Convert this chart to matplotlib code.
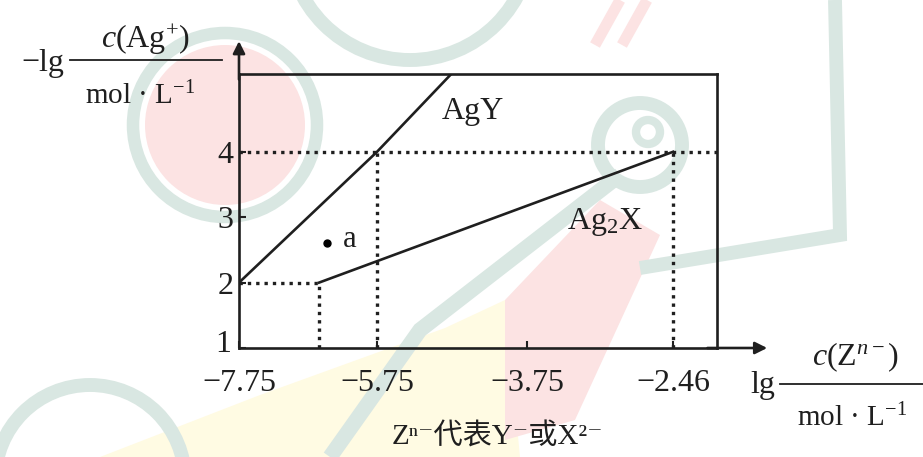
import numpy as np
import matplotlib.pyplot as plt
import matplotlib.patches as patches
from matplotlib.transforms import IdentityTransform, ScaledTranslation

plt.rcParams['font.family'] = ['Liberation Serif', 'DejaVu Serif', 'Noto Sans CJK SC']
plt.rcParams['mathtext.fontset'] = 'custom'
plt.rcParams['mathtext.rm'] = 'Liberation Serif'
plt.rcParams['mathtext.it'] = 'Liberation Serif:italic'

# 数据
x_ticks = [-7.75, -5.75, -3.75, -2.46]
x_tick_labels = ['−7.75', '−5.75', '−3.75', '−2.46']
y_ticks = [1, 2, 3, 4]
agy_x = [-7.75, -5.75, -4.76]
agy_y = [2, 4, 5.19]
ag2x_x = [-6.59, -2.46]
ag2x_y = [2, 4]
point_a_x = [-6.47]
point_a_y = [2.61]
x_right = -2.07   # 方框右边
y_top = 5.19      # 方框上边

# 示意图，横轴不等比例：刻度在轴上的位置（像素）
x_anchor = [-20, -7.75, -5.75, -3.75, -2.46, -2.07, 10]
x_anchor_px = [-845, 0, 138, 288, 434, 478, 1842]


def fwd(x):
    return np.interp(x, x_anchor, x_anchor_px)


def inv(p):
    return np.interp(p, x_anchor_px, x_anchor)


W, H = 923, 457
fig = plt.figure(figsize=(W / 100, H / 100), dpi=100)
fig.patch.set_facecolor('white')


def fp(x, y):
    # 像素(左上角为原点) -> figure 坐标
    return x / W, 1 - y / H


# ---- 背景水印 ----
green = '#d9e7e2'
pink = '#fce3e3'
yellow = '#fffbe3'


def pix(x, y):
    return x, H - y


bg = [
    patches.Polygon([pix(*p) for p in [(100, 457), (260, 395), (445, 328), (505, 300), (520, 457)]],
                    fc=yellow, ec='none'),
    patches.Polygon([pix(*p) for p in [(505, 300), (600, 200), (660, 235), (575, 420), (505, 440)]],
                    fc=pink, ec='none'),
    patches.Circle(pix(225, 125), 80, fc=pink, ec='none'),
    patches.Circle(pix(225, 125), 92, fc='none', ec=green, lw=9),
    patches.Circle(pix(410, -62), 122, fc='none', ec=green, lw=10),
    patches.Circle(pix(640, 145), 42, fc='none', ec=green, lw=10),
    patches.Circle(pix(648, 132), 12, fc='none', ec=green, lw=6),
    patches.Circle(pix(90, 480), 95, fc='none', ec=green, lw=10),
    patches.Polygon([pix(*p) for p in [(835, 0), (840, 235), (640, 268)]],
                    closed=False, fc='none', ec=green, lw=10),
    patches.Polygon([pix(*p) for p in [(620, 175), (420, 330), (330, 457)]],
                    closed=False, fc='none', ec=green, lw=11),
    patches.Polygon([pix(*p) for p in [(595, 45), (620, 0)]], closed=False, ec=pink, lw=8),
    patches.Polygon([pix(*p) for p in [(622, 45), (647, 0)]], closed=False, ec=pink, lw=8),
]
for p in bg:
    p.set_transform(IdentityTransform())
    p.set_zorder(-5)
    fig.add_artist(p)

# ---- 坐标区 ----
ax = fig.add_axes([239 / W, (H - 348) / H, 478 / W, 274 / H])
ax.patch.set_alpha(0)
ax.set_xscale('function', functions=(fwd, inv))
ax.set_xlim(-7.75, x_right)
ax.set_ylim(1, y_top)

ink = '#1f1f1f'
for s in ax.spines.values():
    s.set_color(ink)
    s.set_linewidth(1.9)

ax.set_xticks(x_ticks, x_tick_labels)
ax.set_yticks(y_ticks)
ax.tick_params(direction='in', length=5, width=1.5, color=ink, labelsize=23,
               labelcolor=ink)
ax.tick_params(axis='x', pad=15)
ax.tick_params(axis='y', pad=4)
# 纵轴的 "1" 稍微上移
lab1 = ax.get_yticklabels()[0]
lab1.set_transform(lab1.get_transform() + ScaledTranslation(-0.02, 0.07, fig.dpi_scale_trans))

# 坐标轴箭头
ax.annotate('', xy=(0, 1.12), xytext=(0, 0.98), xycoords='axes fraction',
            arrowprops=dict(arrowstyle='-|>', color=ink, lw=1.9, mutation_scale=18,
                            shrinkA=0, shrinkB=0), annotation_clip=False)
ax.annotate('', xy=(1.105, 0), xytext=(0.98, 0), xycoords='axes fraction',
            arrowprops=dict(arrowstyle='-|>', color=ink, lw=1.9, mutation_scale=18,
                            shrinkA=0, shrinkB=0), annotation_clip=False)

# 虚线
dot = dict(color=ink, lw=2.4, linestyle=(0, (1, 1.5)), dash_capstyle='butt')
ax.plot([x_ticks[0], x_right], [4, 4], **dot)
ax.plot([x_ticks[1], x_ticks[1]], [1, 4], **dot)
ax.plot([x_ticks[3], x_ticks[3]], [1, 4], **dot)
ax.plot([x_ticks[0], ag2x_x[0]], [2, 2], **dot)
ax.plot([ag2x_x[0], ag2x_x[0]], [1, 2], **dot)

# 曲线
ax.plot(agy_x, agy_y, color=ink, lw=1.9)
ax.plot(ag2x_x, ag2x_y, color=ink, lw=1.9)
ax.plot(point_a_x, point_a_y, 'o', color='black', ms=5)

ax.text(*fp(473, 112), 'AgY', transform=fig.transFigure, ha='center', va='center',
        fontsize=23, color=ink)
ax.text(*fp(605, 222), r'Ag$_{2}$X', transform=fig.transFigure, ha='center', va='center',
        fontsize=23, color=ink)
ax.text(*fp(350, 240), 'a', transform=fig.transFigure, ha='center', va='center',
        fontsize=22, color=ink)

# 纵轴标题
fig.text(*fp(43, 64), '−lg', ha='center', va='center', fontsize=23, color=ink)
fig.text(*fp(145, 40), r'$c$(Ag$^{+}$)', ha='center', va='center', fontsize=23, color=ink)
fig.add_artist(plt.Line2D([70 / W, 222 / W], [1 - 60 / H, 1 - 60 / H], color=ink, lw=1.3))
fig.text(*fp(140, 96), r'mol · L$^{-1}$', ha='center', va='center', fontsize=21, color=ink)

# 横轴标题
fig.text(*fp(763, 386), 'lg', ha='center', va='center', fontsize=23, color=ink)
fig.text(*fp(855, 357), r'$c$(Z$^{n-}$)', ha='center', va='center', fontsize=23, color=ink)
fig.add_artist(plt.Line2D([780 / W, 923 / W], [1 - 384 / H, 1 - 384 / H], color=ink, lw=1.3))
fig.text(*fp(852, 418), r'mol · L$^{-1}$', ha='center', va='center', fontsize=21, color=ink)

fig.text(*fp(497, 437), 'Zⁿ⁻代表Y⁻或X²⁻', ha='center', va='center', fontsize=21, color=ink)

fig.savefig('out.png', dpi=100)
